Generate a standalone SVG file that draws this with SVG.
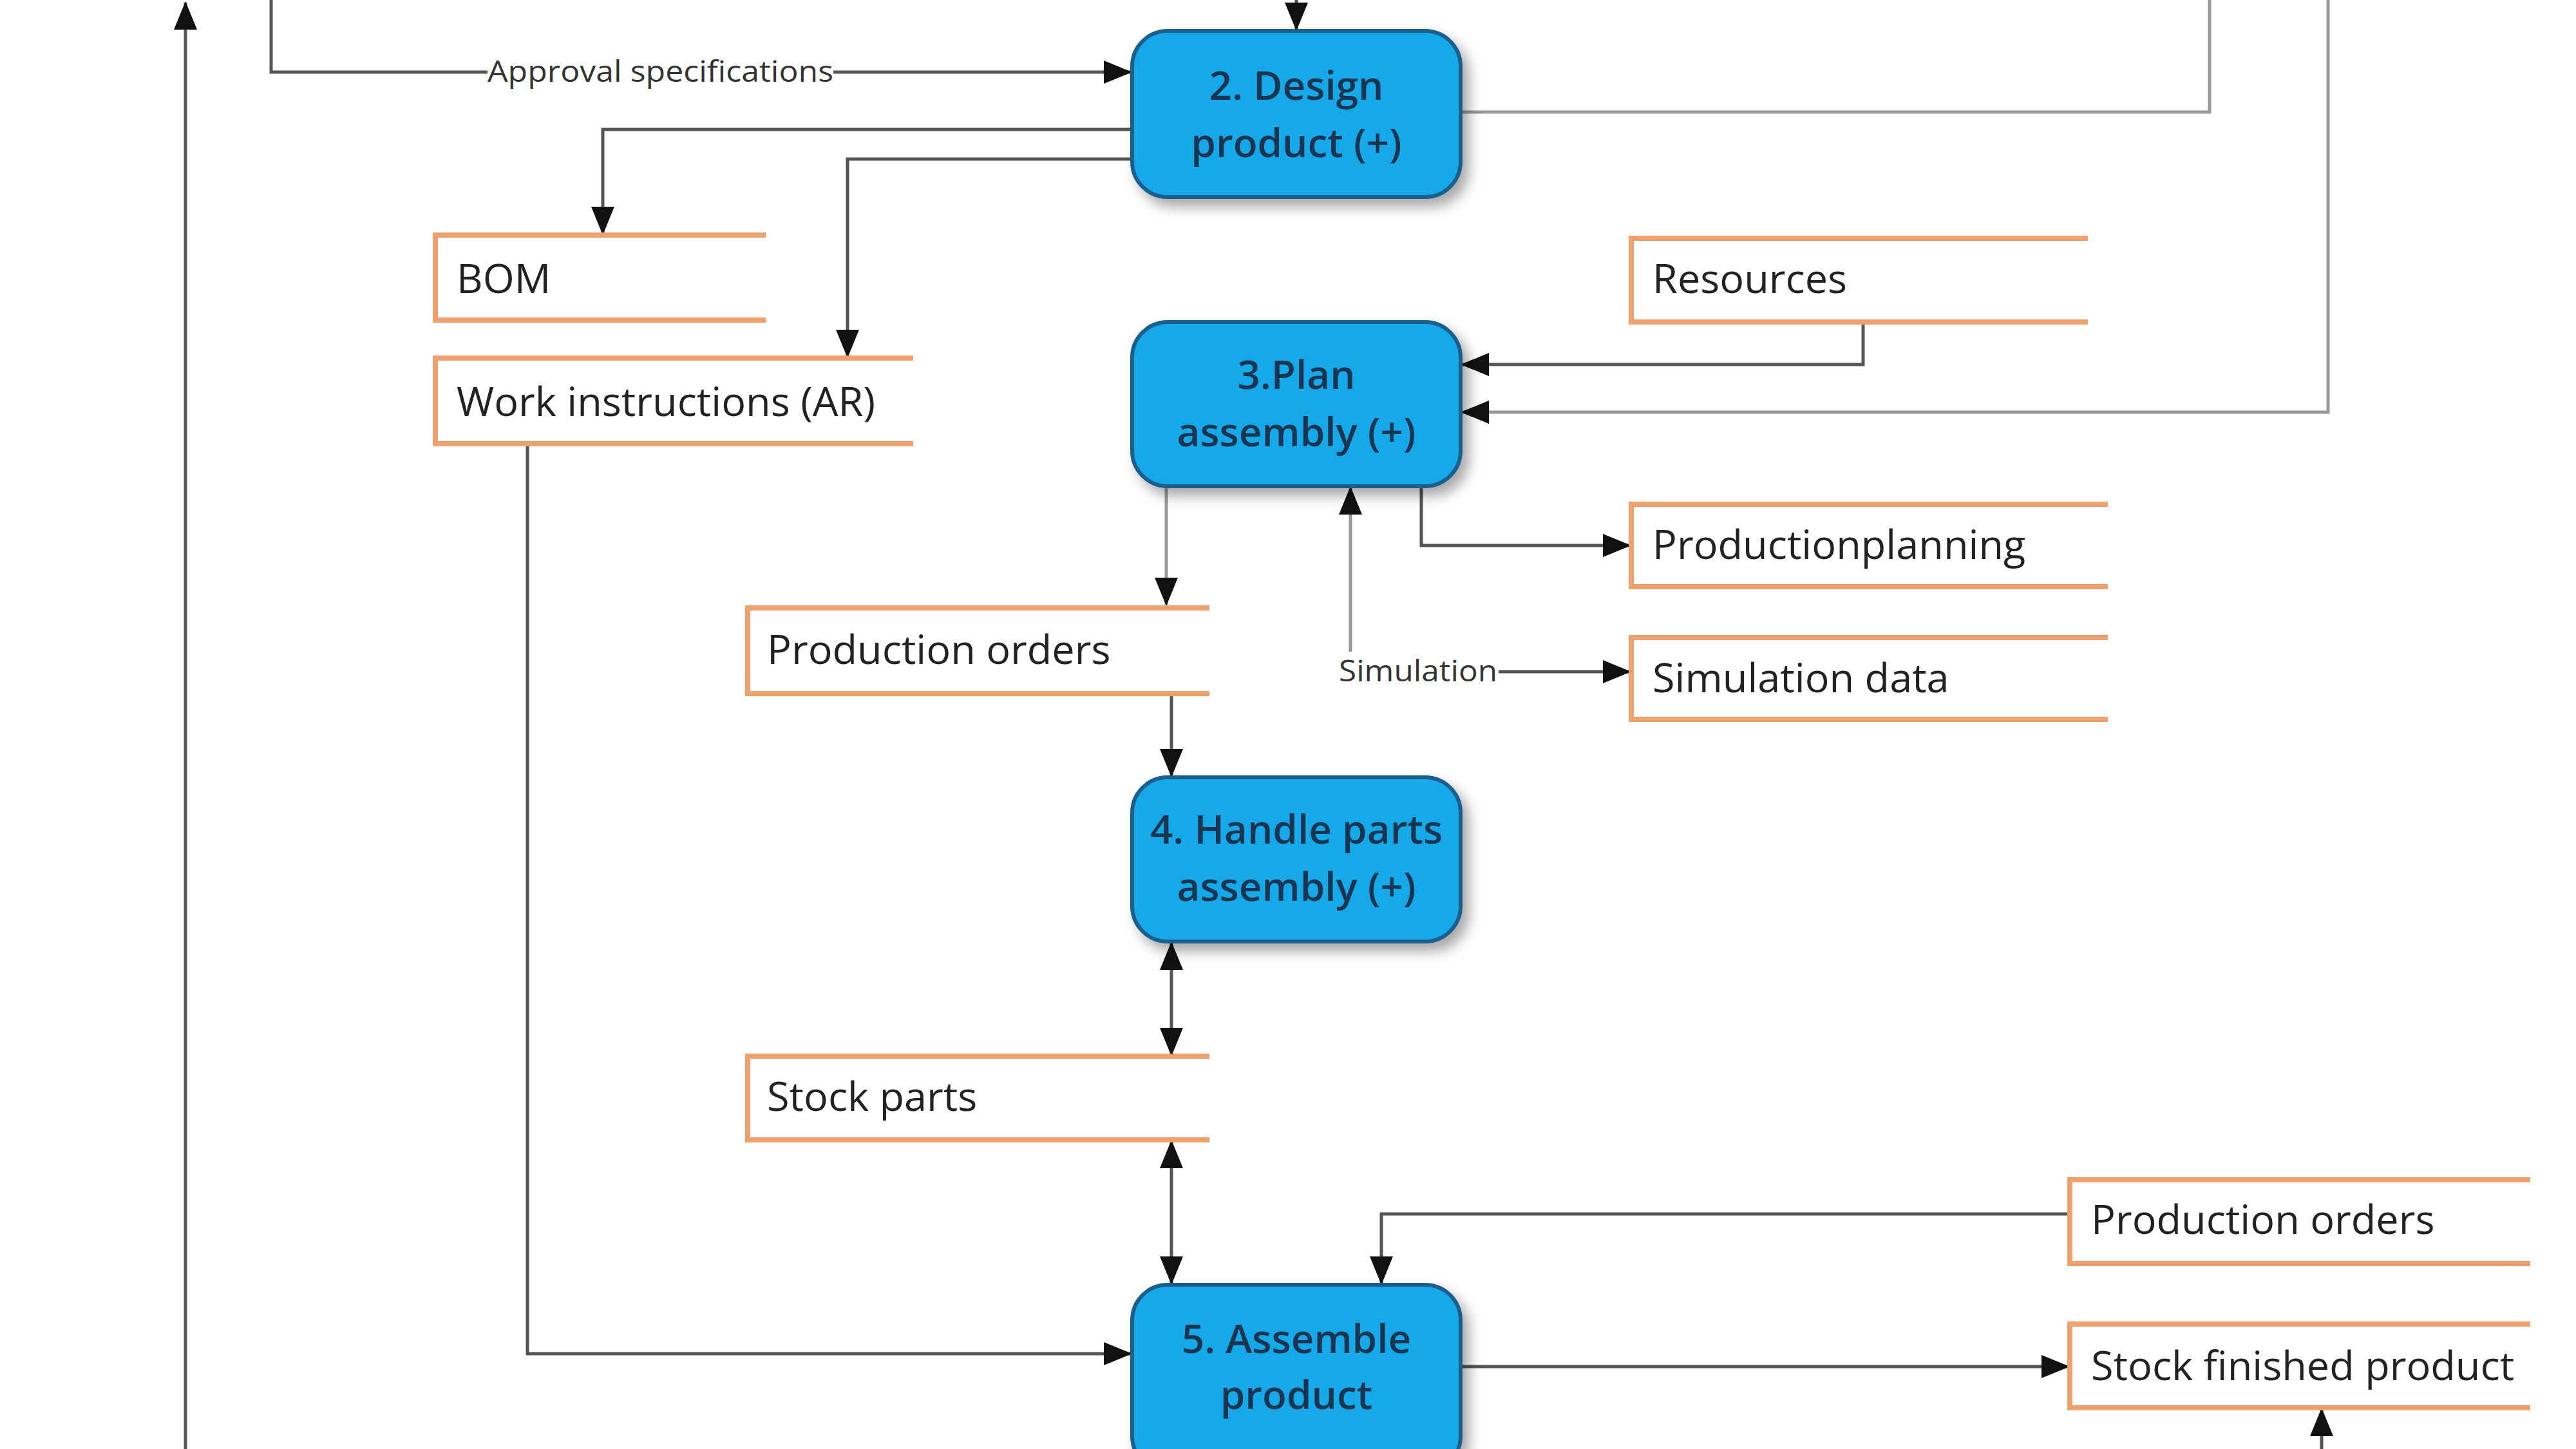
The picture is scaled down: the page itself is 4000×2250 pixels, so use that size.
<svg xmlns="http://www.w3.org/2000/svg" width="4000" height="2250" viewBox="0 0 4000 2250">
<defs>
<marker id="arr" markerUnits="userSpaceOnUse" markerWidth="44" markerHeight="36" refX="42" refY="18" orient="auto-start-reverse">
<path d="M0,0 L44,18 L0,36 z" fill="#111"/>
</marker>
<filter id="sh" x="-20%" y="-20%" width="150%" height="150%">
<feDropShadow dx="10" dy="12" stdDeviation="10" flood-color="#000" flood-opacity="0.35"/>
</filter>
</defs>
<style>
.proc{fill:#12A9EA;stroke:#1A5F8C;stroke-width:6;filter:url(#sh)}
.pt{font-family:"Open Sans","Noto Sans",sans-serif;font-size:62px;font-weight:600;fill:#1B3550;text-anchor:middle}
.store{fill:none;stroke:#F0A06C;stroke-width:8}
.st{font-family:"Open Sans","Noto Sans",sans-serif;font-size:63px;fill:#222}
.e{fill:none;stroke:#555;stroke-width:5}
.el{fill:none;stroke:#999;stroke-width:5}
.lbl{font-family:"Open Sans","Noto Sans",sans-serif;font-size:46px;fill:#333}
</style>
<rect width="4000" height="2250" fill="#fff"/>
<g id="connectors">
<path class="e" d="M288,2250 V4" marker-end="url(#arr)"/>
<path class="e" d="M421,0 V112 H1756" marker-end="url(#arr)"/>
<path class="e" d="M2013,0 V46" marker-end="url(#arr)"/>
<path class="el" d="M2268,174 H3431 V0"/>
<path class="e" d="M1758,201 H936 V363" marker-end="url(#arr)"/>
<path class="e" d="M1758,247 H1316 V554" marker-end="url(#arr)"/>
<path class="e" d="M819,689 V2102 H1756" marker-end="url(#arr)"/>
<path class="e" d="M2893,500 V566 H2270" marker-end="url(#arr)"/>
<path class="el" d="M3615,0 V640 H2270" marker-end="url(#arr)"/>
<path class="el" d="M1811,755 V939" marker-end="url(#arr)"/>
<path class="e" d="M2207,755 V847 H2531" marker-end="url(#arr)"/>
<path class="el" d="M2097,1012 V757" marker-end="url(#arr)"/>
<path class="e" d="M2327,1043 H2531" marker-end="url(#arr)"/>
<path class="e" d="M1819,1077 V1205" marker-end="url(#arr)"/>
<path class="e" d="M1819,1464 V1638" marker-start="url(#arr)" marker-end="url(#arr)"/>
<path class="e" d="M1819,1772 V1993" marker-start="url(#arr)" marker-end="url(#arr)"/>
<path class="e" d="M3214,1885 H2145 V1993" marker-end="url(#arr)"/>
<path class="e" d="M2268,2122 H3212" marker-end="url(#arr)"/>
<path class="e" d="M3605,2250 V2188" marker-end="url(#arr)"/>
<rect x="757" y="88" width="537" height="48" fill="#fff"/>
<text class="lbl" x="757" y="127" textLength="537" lengthAdjust="spacingAndGlyphs">Approval specifications</text>
<text class="lbl" x="2079" y="1058" textLength="246" lengthAdjust="spacingAndGlyphs">Simulation</text>
</g>
<g id="p2"><rect class="proc" x="1758" y="48" width="510" height="258" rx="55"/><text class="pt" x="2013" y="155">2. Design</text><text class="pt" x="2013" y="244">product (+)</text></g>
<g id="p3"><rect class="proc" x="1758" y="500" width="510" height="255" rx="55"/><text class="pt" x="2013" y="604">3.Plan</text><text class="pt" x="2013" y="693">assembly (+)</text></g>
<g id="p4"><rect class="proc" x="1758" y="1207" width="510" height="255" rx="55"/><text class="pt" x="2013" y="1310">4. Handle parts</text><text class="pt" x="2013" y="1399">assembly (+)</text></g>
<g id="p5"><rect class="proc" x="1758" y="1995" width="510" height="290" rx="55"/><text class="pt" x="2013" y="2101">5. Assemble</text><text class="pt" x="2013" y="2188">product</text></g>
<g id="bom"><path class="store" d="M1189,365 H676 V497 H1189"/><text class="st" x="709" y="455">BOM</text></g>
<g id="wi"><path class="store" d="M1418,556 H676 V689 H1418"/><text class="st" x="709" y="646">Work instructions (AR)</text></g>
<g id="res"><path class="store" d="M3242,370 H2533 V500 H3242"/><text class="st" x="2566" y="455">Resources</text></g>
<g id="pp"><path class="store" d="M3273,783 H2533 V911 H3273"/><text class="st" x="2566" y="868">Productionplanning</text></g>
<g id="sd"><path class="store" d="M3273,990 H2533 V1117 H3273"/><text class="st" x="2566" y="1075">Simulation data</text></g>
<g id="po1"><path class="store" d="M1878,944 H1161 V1077 H1878"/><text class="st" x="1191" y="1031">Production orders</text></g>
<g id="sp"><path class="store" d="M1878,1640 H1161 V1770 H1878"/><text class="st" x="1191" y="1725">Stock parts</text></g>
<g id="po2"><path class="store" d="M3929,1832 H3214 V1962 H3929"/><text class="st" x="3247" y="1916">Production orders</text></g>
<g id="sfp"><path class="store" d="M3929,2056 H3214 V2186 H3929"/><text class="st" x="3247" y="2143">Stock finished product</text></g>
</svg>
